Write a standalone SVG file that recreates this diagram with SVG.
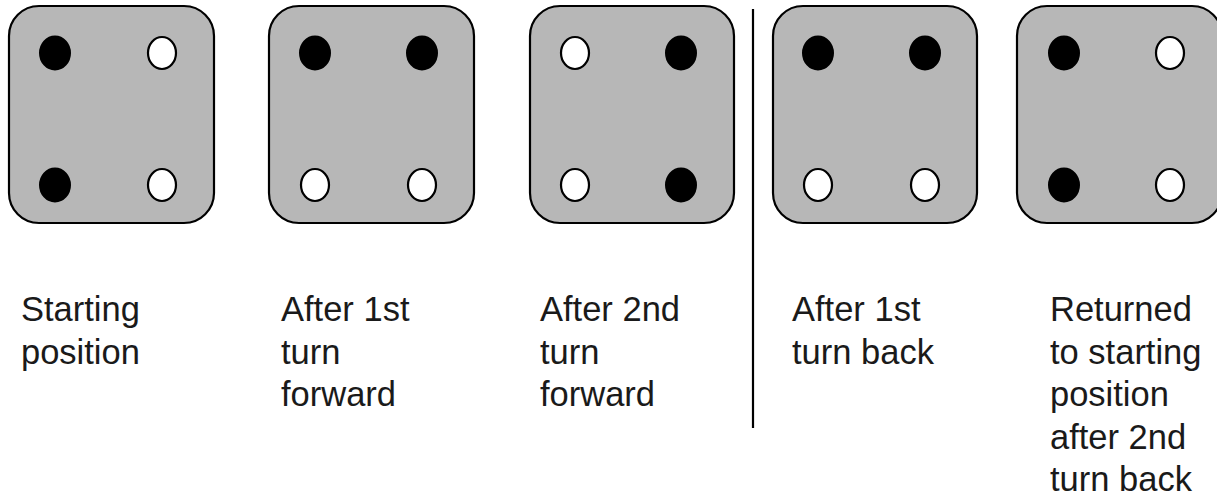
<svg xmlns="http://www.w3.org/2000/svg" width="1217" height="504" viewBox="0 0 1217 504">
<style>
.box{fill:#b7b7b7;stroke:#000;stroke-width:2.2}
.b{fill:#000;stroke:#000;stroke-width:2}
.w{fill:#fff;stroke:#000;stroke-width:2.2}
.t{font-family:"Liberation Sans",Arial,sans-serif;font-size:34.5px;fill:#1a1a1a}
.div{stroke:#000;stroke-width:2.2}
</style>
<rect width="1217" height="504" fill="#fff"/>
<g id="p1">
<rect class="box" x="9" y="6" width="205" height="217" rx="30"/>
<ellipse class="b" cx="55" cy="53" rx="15" ry="16.5"/>
<ellipse class="w" cx="162" cy="53" rx="14" ry="16"/>
<ellipse class="b" cx="55" cy="185" rx="15" ry="16.5"/>
<ellipse class="w" cx="162" cy="185" rx="14" ry="16"/>
<text class="t" x="21" y="321">Starting</text>
<text class="t" x="21" y="363.5">position</text>
</g>
<g id="p2">
<rect class="box" x="269" y="6" width="205" height="217" rx="30"/>
<ellipse class="b" cx="315" cy="53" rx="15" ry="16.5"/>
<ellipse class="b" cx="422" cy="53" rx="15" ry="16.5"/>
<ellipse class="w" cx="315" cy="185" rx="14" ry="16"/>
<ellipse class="w" cx="422" cy="185" rx="14" ry="16"/>
<text class="t" x="281" y="321">After 1st</text>
<text class="t" x="281" y="363.5">turn</text>
<text class="t" x="281" y="406">forward</text>
</g>
<g id="p3">
<rect class="box" x="530" y="6" width="204" height="217" rx="30"/>
<ellipse class="w" cx="575" cy="53" rx="14" ry="16"/>
<ellipse class="b" cx="681" cy="53" rx="15" ry="16.5"/>
<ellipse class="w" cx="575" cy="185" rx="14" ry="16"/>
<ellipse class="b" cx="681" cy="185" rx="15" ry="16.5"/>
<text class="t" x="540" y="321">After 2nd</text>
<text class="t" x="540" y="363.5">turn</text>
<text class="t" x="540" y="406">forward</text>
</g>
<g id="connectors">
<line class="div" x1="753" y1="9" x2="753" y2="428"/>
</g>
<g id="p4">
<rect class="box" x="773" y="6" width="204" height="217" rx="30"/>
<ellipse class="b" cx="818" cy="53" rx="15" ry="16.5"/>
<ellipse class="b" cx="925" cy="53" rx="15" ry="16.5"/>
<ellipse class="w" cx="818" cy="185" rx="14" ry="16"/>
<ellipse class="w" cx="925" cy="185" rx="14" ry="16"/>
<text class="t" x="792" y="321">After 1st</text>
<text class="t" x="792" y="363.5">turn back</text>
</g>
<g id="p5">
<rect class="box" x="1017" y="6" width="205" height="217" rx="30"/>
<ellipse class="b" cx="1064" cy="53" rx="15" ry="16.5"/>
<ellipse class="w" cx="1170" cy="53" rx="14" ry="16"/>
<ellipse class="b" cx="1064" cy="185" rx="15" ry="16.5"/>
<ellipse class="w" cx="1170" cy="185" rx="14" ry="16"/>
<text class="t" x="1050" y="321">Returned</text>
<text class="t" x="1050" y="363.5">to starting</text>
<text class="t" x="1050" y="406">position</text>
<text class="t" x="1050" y="448.5">after 2nd</text>
<text class="t" x="1050" y="491">turn back</text>
</g>
</svg>
